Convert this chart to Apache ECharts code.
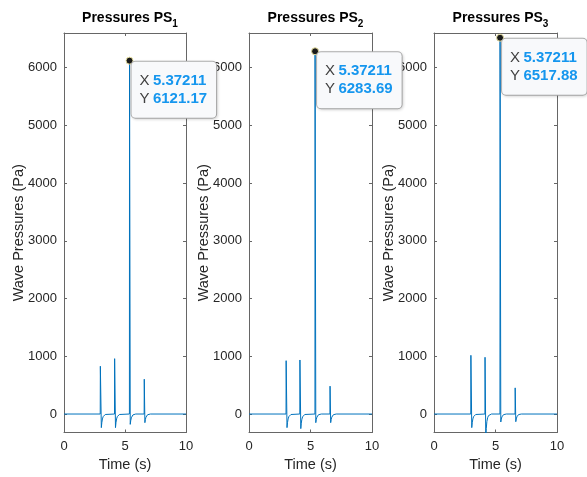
<!DOCTYPE html>
<html>
<head>
<meta charset="utf-8">
<script src="https://cdn.jsdelivr.net/npm/echarts@6/dist/echarts.min.js"></script>
<style>
html,body{margin:0;padding:0;background:#fff;}
#chart{width:587px;height:477px;}
</style>
</head>
<body>
<div id="chart"></div>
<script>
// ---- Data ----
const panelTitles = ['1', '2', '3'];
const xTicks = [0, 5, 10];
const yTicks = [0, 1000, 2000, 3000, 4000, 5000, 6000];
const yMin = -320, yMax = 6600;

const timePS1 = [0, 2.97, 2.98, 3.06, 3.10, 3.15, 3.21, 3.28, 3.38, 3.52,
  4.14, 4.15, 4.22, 4.26, 4.31, 4.37, 4.44, 4.54, 4.68,
  5.362, 5.37211, 5.43, 5.47, 5.52, 5.58, 5.65, 5.75, 5.88,
  6.57, 6.58, 6.63, 6.67, 6.72, 6.78, 6.85, 6.95, 7.08, 10];
const pressPS1 = [0, 0, 828, -236, -150, -85, -45, -20, -8, 0,
  0, 959, -236, -150, -85, -45, -20, -8, 0,
  0, 6121.17, -179, -115, -65, -33, -15, -6, 0,
  0, 603, -150, -95, -55, -28, -12, -5, 0, 0];

const timePS2 = [0, 3.01, 3.02, 3.09, 3.13, 3.18, 3.24, 3.31, 3.41, 3.55,
  4.13, 4.14, 4.21, 4.25, 4.30, 4.36, 4.43, 4.53, 4.67,
  5.362, 5.37211, 5.43, 5.47, 5.52, 5.58, 5.65, 5.75, 5.88,
  6.58, 6.59, 6.64, 6.68, 6.73, 6.79, 6.86, 6.96, 7.09, 10];
const pressPS2 = [0, 0, 924, -236, -150, -85, -45, -20, -8, 0,
  0, 936, -253, -160, -90, -48, -21, -8, 0,
  0, 6283.69, -150, -95, -55, -28, -12, -5, 0,
  0, 483, -150, -95, -55, -28, -12, -5, 0, 0];

const timePS3 = [0, 2.99, 3.00, 3.07, 3.11, 3.16, 3.22, 3.29, 3.39, 3.53,
  4.14, 4.15, 4.21, 4.25, 4.30, 4.36, 4.43, 4.53, 4.67,
  5.362, 5.37211, 5.43, 5.47, 5.52, 5.58, 5.65, 5.75, 5.88,
  6.59, 6.60, 6.65, 6.69, 6.74, 6.80, 6.87, 6.97, 7.10, 10];
const pressPS3 = [0, 0, 1017, -236, -150, -85, -45, -20, -8, 0,
  0, 983, -420, -250, -130, -65, -28, -10, 0,
  0, 6517.88, -138, -88, -50, -25, -11, -4, 0,
  0, 453, -133, -85, -48, -24, -10, -4, 0, 0];

const tipX = [5.37211, 5.37211, 5.37211];
const tipY = [6121.17, 6283.69, 6517.88];

// ---- Build chart ----
const times = [timePS1, timePS2, timePS3];
const press = [pressPS1, pressPS2, pressPS3];
const FONT = "'Liberation Sans', Arial, Helvetica, sans-serif";
const AX = '#666666';
const TXT = '#262626';
const LINE = '#0072BD';

const grids = [
  {left: 64, top: 33, width: 122, height: 402},
  {left: 249, top: 33, width: 123, height: 402},
  {left: 434, top: 33, width: 123, height: 402}
];

const option = {
  animation: false,
  backgroundColor: '#fff',
  textStyle: {fontFamily: FONT},
  title: [], grid: [], xAxis: [], yAxis: [], series: []
};

grids.forEach((g, i) => {
  option.grid.push({left: g.left, top: g.top, width: g.width, height: g.height, containLabel: false});
  option.title.push({
    text: '{a|Pressures PS}{s|' + panelTitles[i] + '}',
    left: g.left + g.width / 2,
    top: 2,
    textAlign: 'center',
    textStyle: {
      rich: {
        a: {fontFamily: FONT, fontSize: 14, fontWeight: 'bold', color: '#000', lineHeight: 22},
        s: {fontFamily: FONT, fontSize: 10, fontWeight: 'bold', color: '#000', lineHeight: 10, verticalAlign: 'bottom'}
      }
    }
  });
  // bottom x axis
  option.xAxis.push({
    type: 'value', gridIndex: i, position: 'bottom', min: 0, max: 10, interval: 5,
    name: 'Time (s)', nameLocation: 'middle', nameGap: 24.5, nameMoveOverlap: false,
    nameTextStyle: {fontFamily: FONT, fontSize: 14.5, color: TXT},
    axisLine: {show: true, onZero: false, lineStyle: {color: AX, width: 1}},
    axisTick: {show: true, inside: true, length: 3, lineStyle: {color: AX}, customValues: xTicks},
    axisLabel: {show: true, margin: 7, fontFamily: FONT, fontSize: 13, color: TXT, customValues: xTicks,
      formatter: v => String(v)},
    splitLine: {show: false}
  });
  // left y axis
  option.yAxis.push({
    type: 'value', gridIndex: i, position: 'left', min: yMin, max: yMax,
    name: 'Wave Pressures (Pa)', nameLocation: 'middle', nameGap: 38, nameRotate: 90, nameMoveOverlap: false,
    nameTextStyle: {fontFamily: FONT, fontSize: 14.5, color: TXT},
    axisLine: {show: true, onZero: false, lineStyle: {color: AX, width: 1}},
    axisTick: {show: true, inside: true, length: 3, lineStyle: {color: AX}, customValues: yTicks},
    axisLabel: {show: true, margin: 7, fontFamily: FONT, fontSize: 13, color: TXT, customValues: yTicks,
      formatter: v => String(v)},
    splitLine: {show: false}
  });
});
// box axes (top and right)
grids.forEach((g, i) => {
  option.xAxis.push({
    type: 'value', gridIndex: i, position: 'top', min: 0, max: 10, interval: 5,
    axisLine: {show: true, onZero: false, lineStyle: {color: AX, width: 1}},
    axisTick: {show: true, inside: true, length: 3, lineStyle: {color: AX}, customValues: xTicks},
    axisLabel: {show: false}, splitLine: {show: false}
  });
  option.yAxis.push({
    type: 'value', gridIndex: i, position: 'right', min: yMin, max: yMax,
    axisLine: {show: true, onZero: false, lineStyle: {color: AX, width: 1}},
    axisTick: {show: true, inside: true, length: 3, lineStyle: {color: AX}, customValues: yTicks},
    axisLabel: {show: false}, splitLine: {show: false}
  });
});

grids.forEach((g, i) => {
  const data = times[i].map((t, k) => [t, press[i][k]]);
  option.series.push({
    type: 'line', xAxisIndex: i, yAxisIndex: i, data: data,
    showSymbol: false, symbol: 'none', clip: true,
    lineStyle: {color: LINE, width: 1},
    z: 3,
    markPoint: {
      symbol: 'circle', symbolSize: 7,
      itemStyle: {color: '#1a1a1a', borderColor: '#e8e0a0', borderWidth: 1},
      z: 10,
      label: {
        show: true,
        position: [6, 5],
        formatter: '{k|X} {v|' + tipX[i] + '}\n{k|Y} {v|' + tipY[i].toFixed(2) + '}',
        backgroundColor: '#f8f9fb',
        borderColor: '#b0b0b0', borderWidth: 1, borderRadius: 4,
        padding: [10, 9, 10, 8],
        shadowColor: 'rgba(0,0,0,0.12)', shadowBlur: 3, shadowOffsetX: 1, shadowOffsetY: 1,
        rich: {
          k: {fontFamily: FONT, fontSize: 15, color: '#404040', lineHeight: 18},
          v: {fontFamily: FONT, fontSize: 15, fontWeight: 'bold', color: '#1596ee', lineHeight: 18}
        }
      },
      data: [{coord: [tipX[i], tipY[i]]}]
    }
  });
});

const chart = echarts.init(document.getElementById('chart'), null, {renderer: 'canvas'});
chart.setOption(option);
</script>
</body>
</html>
